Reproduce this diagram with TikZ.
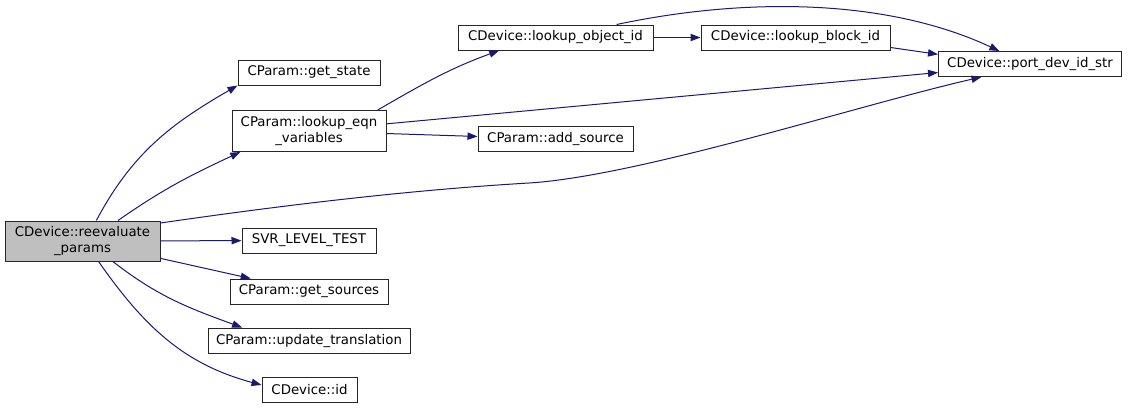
\documentclass[tikz,border=0pt]{standalone}
\usepackage{fontspec}
\setmainfont{DejaVu Sans}
\usetikzlibrary{arrows.meta}
\definecolor{edgeblue}{RGB}{25,25,112}
\tikzset{
  fn/.style      ={rectangle,draw=black!85,line width=0.75pt,fill=white,
                   minimum height=18.75pt,inner sep=0pt,align=center,
                   font=\fontsize{10}{11.3}\selectfont},
  fnroot/.style  ={fn,fill=black!25,minimum height=30pt},
  fntwo/.style   ={fn,minimum height=30.75pt},
  arr/.style     ={-{Triangle[length=7.5pt,width=5.5pt]},draw=edgeblue,
                   line width=0.75pt}
}
\begin{document}
\begin{tikzpicture}[x=0.75pt,y=0.75pt]
  \useasboundingbox (0,0) rectangle (1128,-412);
  \node (reev)      [fnroot, minimum width=116.25pt] at (82.5,-241)  {CDevice::reevaluate\\\_params};
  \node (getstate)  [fn,     minimum width=106.5pt]  at (309,-72.5)  {CParam::get\_state};
  \node (lookupeqn) [fntwo,  minimum width=115.5pt]  at (309,-131)   {CParam::lookup\_eqn\\\_variables};
  \node (svr)       [fn,     minimum width=100.5pt]  at (309,-240.5) {SVR\_LEVEL\_TEST};
  \node (getsrc)    [fn,     minimum width=118.5pt]  at (309,-291.5) {CParam::get\_sources};
  \node (updtr)     [fn,     minimum width=151.5pt]  at (309,-340.5) {CParam::update\_translation};
  \node (devid)     [fn,     minimum width=71.25pt]  at (309.5,-390) {CDevice::id};
  \node (objid)     [fn,     minimum width=146.25pt] at (555.5,-37.5) {CDevice::lookup\_object\_id};
  \node (addsrc)    [fn,     minimum width=116.25pt] at (555.5,-139)  {CParam::add\_source};
  \node (blockid)   [fn,     minimum width=141.75pt] at (795.5,-37.5) {CDevice::lookup\_block\_id};
  \node (portstr)   [fn,     minimum width=137.25pt] at (1030,-64)    {CDevice::port\_dev\_id\_str};

  \draw [arr] (reev.56) to[out=62,in=210] (getstate.south west);
  \draw [arr] (reev.30) to[out=35,in=205] (lookupeqn.197);
  \draw [arr] (reev.13) .. controls (281,-205.5) and (409,-190) .. (529,-183)
                        .. controls (640,-176) and (859,-105) .. (portstr.195);
  \draw [arr] (reev) -- (svr);
  \draw [arr] (reev) -- (getsrc);
  \draw [arr] (reev.-34) to[out=-38,in=160] (updtr.169);
  \draw [arr] (reev.-52) to[out=-55,in=165] (devid.174);
  \draw [arr] (lookupeqn.17) to[out=30,in=200] (objid.193);
  \draw [arr] (lookupeqn) -- (portstr);
  \draw [arr] (lookupeqn) -- (addsrc);
  \draw [arr] (objid) -- (blockid);
  \draw [arr] (objid.12) to[out=12,in=155,looseness=0.85] (portstr.157);
  \draw [arr] (blockid.-6) -- (portstr.174);
\end{tikzpicture}
\end{document}
